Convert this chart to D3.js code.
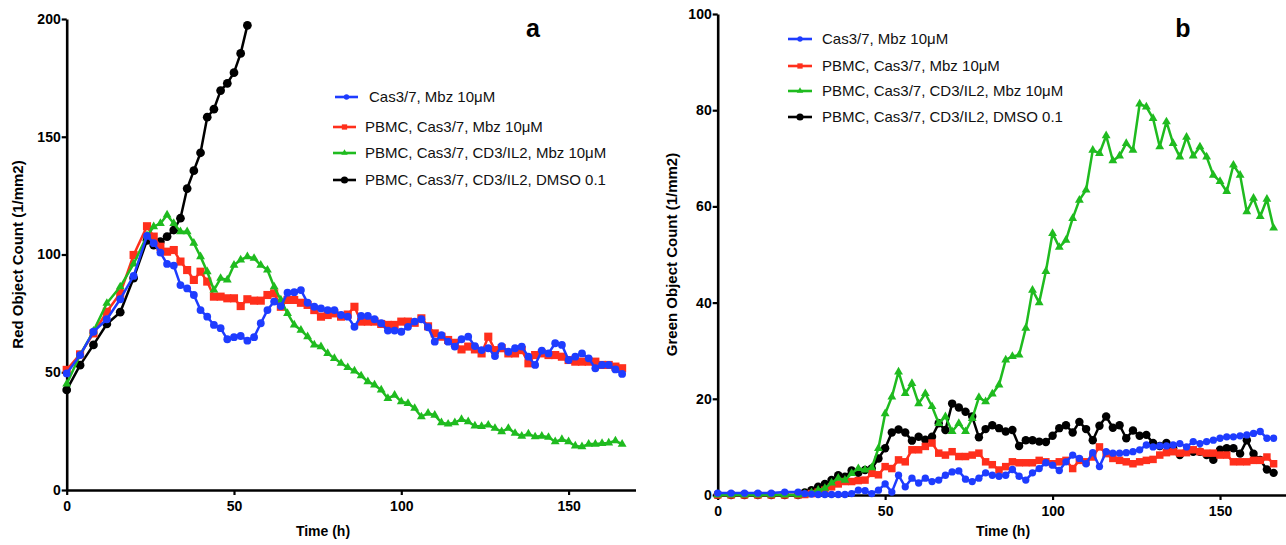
<!DOCTYPE html>
<html><head><meta charset="utf-8">
<script src="https://cdn.jsdelivr.net/npm/d3@7"></script>
<style>
body{margin:0;background:#fff;}
svg{display:block;font-family:"Liberation Sans",Arial,Helvetica,sans-serif;}
</style>
</head><body>
<svg id="chart" width="1286" height="545"></svg>
<script>
// ---------- DATA ----------
const time = [0,4,8,12,16,20,24,26,28,30,32,34,36,38,40,42,44,46,48,50,52,54,56,58,60,62,64,66,68,70,72,74,76,78,80,82,84,86,88,90,92,94,96,98,100,102,104,106,108,110,112,114,116,118,120,122,124,126,128,130,132,134,136,138,140,142,144,146,148,150,152,154,156,158,160,162,164,166];
const timeShort = [0,4,8,12,16,20,24,26,28,30,32,34,36,38,40,42,44,46,48,50,52,54];

const seriesNames = ["Cas3/7, Mbz 10μM","PBMC, Cas3/7, Mbz 10μM","PBMC, Cas3/7, CD3/IL2, Mbz 10μM","PBMC, Cas3/7, CD3/IL2, DMSO 0.1"];

// panel a : Red Object Count
const redBlue = [49.5,57.3,67.2,72.5,81,90.9,107.9,104.8,100.8,96,
95.3,87,85.6,82.8,76.4,73.6,70.1,68.7,64,64.9,
65.4,63.4,64.9,70.8,76.4,80,78.1,83.8,84,84.9,
79.5,77.8,77.1,76.4,76.4,74.3,73.6,69.3,73.9,73.9,
72.5,70.8,67.7,67.7,67.2,69.3,71.5,72.5,69.1,63,
65.8,63,60.9,64,65.1,61.1,59.4,60.2,56.9,61.1,
58.7,60.2,60.9,56.6,53.1,59.2,58,62.3,61.6,55.2,
56.6,58,55.9,51.7,53.1,53.1,51.2,49.3];
const redRed = [51,57.6,66.5,75.7,83.5,99.8,112,107.6,103.3,101.2,
101.9,97,93.4,89.2,92.7,88.5,82.1,82.1,81.4,81.4,
78.1,81,80.4,80.4,82.8,83.5,77.8,80.7,80.7,79.5,
78.6,76.4,73.6,74.3,75,73.6,74.5,77.8,71.5,71.5,
71.5,70.5,70.1,70.1,71.5,71.5,71,72.9,69.5,66.5,
65.1,63.7,62.5,59.7,60.9,59.7,58,65.1,59.4,60.2,
58,58,59.4,53.8,57.3,58,57.3,57.3,56.6,55.2,
54.5,54.5,54.5,54.5,53.1,53.1,52.4,51.7];
const redGreen = [45,57.3,67.5,79.3,86.3,96,108,111.8,113.2,116.8,
113.2,109.7,109.7,104.8,99.1,92.7,84.9,89.9,89.2,95.5,
97.7,99.1,98.4,95.5,93.4,86.3,80.7,75,70.1,67.9,
65.1,61.6,60.9,58,55.9,53.8,52,50.6,48.5,46,
44.6,42.5,38.9,40.3,37.5,36.8,34.7,31.1,32.6,31.8,
28.6,28,28.6,30,29,27.2,27,27.6,26.2,24.8,
26.2,24.1,22.9,23.8,22.6,22.9,22.4,20.5,21.5,20.5,
18.7,18.4,19.5,19.5,19.8,20,20.9,19.5];
const redBlack = [42.5,53,61.6,70.5,75.5,90,106,104,105.5,107.6,110.4,115.4,128,135.6,143.2,158.3,161.7,169.6,172.7,177.2,185.4,197.3];

// panel b : Green Object Count
const greenBlue = [0.4,0.4,0.4,0.4,0.4,0.6,0.6,0.3,0.2,0.1,
0.1,0.1,0.1,0.1,0.3,1.0,0.9,0.3,1.0,2.3,
0.6,4.1,1.7,3.5,2.5,3.5,2.8,3.1,4.1,4.8,
5.0,3.3,2.8,3.5,4.6,4.1,3.9,4.1,5.3,3.9,
3.1,4.6,5.5,6.7,6.2,5.1,6.9,8.3,7.6,6.5,
8.8,5.9,9.0,8.7,8.7,8.8,9.0,9.4,10.4,10.0,
10.2,10.2,10.4,10.7,10.0,11.1,10.7,11.1,11.4,11.8,
12.1,12.1,12.3,12.5,12.8,13.2,11.8,11.8];
const greenRed = [0,0,0,0,0,0,0,0.1,0.3,0.6,
1.0,1.7,2.3,2.8,2.8,3.0,3.1,4.5,4.2,5.9,
5.5,7.3,6.9,9.4,9.4,10.1,10.8,8.7,8.3,9.0,
8.0,8.0,8.3,8.7,6.9,6.3,5.2,5.9,6.9,6.7,
6.7,6.7,7.2,6.9,6.5,6.9,7.2,5.5,7.2,6.9,
7.9,10.0,8.6,7.6,7.2,6.9,6.5,6.9,7.2,7.4,
8.3,8.8,9.0,8.7,8.8,9.4,9.0,8.7,8.7,8.3,
8.3,6.9,6.9,6.9,7.2,7.2,7.9,6.5];
const greenGreen = [0,0,0,0,0,0,0,0.2,0.5,1.0,
1.4,2.5,3.5,3.1,4.5,5.5,5.2,5.7,9.7,16.9,
20.4,25.6,21.1,23.2,19.0,21.1,18.4,14.9,16.3,13.2,
14.9,13.2,15.9,20.3,19.4,21.0,22.9,28.1,28.8,29.1,
34.7,42.6,40,46.5,54.4,51.5,53,57.5,61.3,63.4,
71.7,71,74.7,69.5,70.5,73.1,71.7,81.3,80.7,78.3,
72.4,77.6,73.1,70.3,74.4,70.5,72.4,70.3,66.5,65.2,
63.1,68.6,66.5,58.9,61.7,57.9,61.5,55.5];
const greenBlack = [0,0,0,0,0,0,0,0.5,1.0,1.7,
2.3,3.1,4.1,3.8,5.1,4.6,5.2,5.5,7.6,9.7,
13.0,13.6,13.0,11.3,12.1,11.5,12.1,14.9,13.5,19.0,
18.2,17.3,16.3,12.0,13.7,14.5,13.9,13.2,13.5,10.2,
11.4,11.4,11.1,11.0,12.3,13.9,14.5,13.0,15.2,13.7,
11.4,14.4,16.3,14.0,14.5,11.8,13.4,12.3,12.5,10.8,
10.2,10.8,9.7,8.3,9.0,9.0,9.0,8.3,7.3,9.4,
9.7,9.7,8.6,11.4,8.6,7.3,5.3,4.6];

const xTicks = [0,50,100,150];
const yTicksA = [0,50,100,150,200];
const yTicksB = [0,20,40,60,80,100];

// ---------- STYLE ----------
const COL = {blue:"#1e3cff", red:"#ff2f1c", green:"#1fbb1f", black:"#000000"};
const svg = d3.select("#chart");

function zip(t, v){ return v.map((d,i)=>({t:t[i], v:d})); }

function drawPanel(cfg){
  const g = svg.append("g");
  const x = d3.scaleLinear().domain([0,170]).range(cfg.xr);
  const y = d3.scaleLinear().domain(cfg.yd).range(cfg.yr);

  // axes
  const ax = g.append("g").attr("transform",`translate(0,${cfg.yr[0]})`)
    .call(d3.axisBottom(x).tickValues(xTicks).tickSize(5).tickSizeOuter(0).tickPadding(6));
  const ay = g.append("g").attr("transform",`translate(${cfg.xr[0]},0)`)
    .call(d3.axisLeft(y).tickValues(cfg.yTicks).tickSize(5).tickSizeOuter(0).tickPadding(1));
  [ax,ay].forEach(a=>{
    a.select(".domain").attr("stroke","#000").attr("stroke-width",2.6);
    a.selectAll(".tick line").attr("stroke","#000").attr("stroke-width",2.2);
    a.selectAll(".tick text").attr("fill","#000").attr("font-size",14).attr("font-weight","bold")
      .attr("font-family",'"Liberation Sans",Arial,sans-serif');
  });

  // labels
  g.append("text").attr("x",cfg.xlabX).attr("y",536).attr("text-anchor","middle")
    .attr("font-size",14).attr("font-weight","bold").text("Time (h)");
  const ym = (cfg.yr[0]+cfg.yr[1])/2;
  g.append("text").attr("transform",`translate(${cfg.ylabX},${ym}) rotate(-90)`)
    .attr("text-anchor","middle").attr("font-size",15).attr("font-weight","bold").text(cfg.ylabel);
  g.append("text").attr("x",cfg.titleX).attr("y",37).attr("text-anchor","middle")
    .attr("font-size",25).attr("font-weight","bold").text(cfg.title);

  const line = d3.line().x(d=>x(d.t)).y(d=>y(d.v));
  cfg.series.forEach(s=>{
    const pts = zip(s.t, s.v);
    g.append("path").datum(pts).attr("fill","none").attr("stroke",s.c)
      .attr("stroke-width",2.5).attr("stroke-linejoin","round").attr("d",line);
    const sym = d3.symbol().type(s.sym).size(s.size);
    g.append("g").selectAll("path").data(pts).join("path")
      .attr("transform",d=>`translate(${x(d.t)},${y(d.v)})`)
      .attr("d",sym).attr("fill",s.c);
  });

  // legend
  cfg.legend.forEach((L,i)=>{
    const s = cfg.series.find(q=>q.name===L.name);
    const lg = g.append("g");
    lg.append("line").attr("x1",L.x1).attr("x2",L.x2).attr("y1",L.y).attr("y2",L.y)
      .attr("stroke",s.c).attr("stroke-width",2.6);
    lg.append("path").attr("transform",`translate(${(L.x1+L.x2)/2},${L.y})`)
      .attr("d",d3.symbol().type(s.sym).size(s.lsize)()).attr("fill",s.c);
    lg.append("text").attr("x",L.tx).attr("y",L.y).attr("dy","0.35em")
      .attr("font-size",15).attr("fill","#111").text(L.name);
  });
}

drawPanel({
  xr:[66.7,635.5], yd:[0,200], yr:[490,19], yTicks:yTicksA,
  ylabel:"Red Object Count (1/mm2)", ylabX:23, xlabX:323, title:"a", titleX:533,
  series:[
    {name:seriesNames[3], t:timeShort, v:redBlack, c:COL.black, sym:d3.symbolCircle, size:60, lsize:40},
    {name:seriesNames[1], t:time, v:redRed, c:COL.red, sym:d3.symbolSquare, size:66, lsize:28},
    {name:seriesNames[2], t:time, v:redGreen, c:COL.green, sym:d3.symbolTriangle, size:34, lsize:18},
    {name:seriesNames[0], t:time, v:redBlue, c:COL.blue, sym:d3.symbolCircle, size:48, lsize:22}
  ],
  legend:[
    {name:seriesNames[0], x1:335, x2:358, tx:369, y:97},
    {name:seriesNames[1], x1:333, x2:356, tx:365, y:127},
    {name:seriesNames[2], x1:333, x2:356, tx:365, y:153},
    {name:seriesNames[3], x1:333, x2:356, tx:365, y:180}
  ]
});

drawPanel({
  xr:[717.7,1287], yd:[0,100], yr:[495,14], yTicks:yTicksB,
  ylabel:"Green Object Count (1/mm2)", ylabX:677, xlabX:1003, title:"b", titleX:1183,
  series:[
    {name:seriesNames[3], t:time, v:greenBlack, c:COL.black, sym:d3.symbolCircle, size:56, lsize:40},
    {name:seriesNames[1], t:time, v:greenRed, c:COL.red, sym:d3.symbolSquare, size:56, lsize:28},
    {name:seriesNames[2], t:time, v:greenGreen, c:COL.green, sym:d3.symbolTriangle, size:34, lsize:18},
    {name:seriesNames[0], t:time, v:greenBlue, c:COL.blue, sym:d3.symbolCircle, size:42, lsize:22}
  ],
  legend:[
    {name:seriesNames[0], x1:788, x2:812, tx:822, y:39},
    {name:seriesNames[1], x1:788, x2:812, tx:822, y:66},
    {name:seriesNames[2], x1:788, x2:812, tx:822, y:91},
    {name:seriesNames[3], x1:788, x2:812, tx:822, y:117}
  ]
});
</script>
</body></html>
